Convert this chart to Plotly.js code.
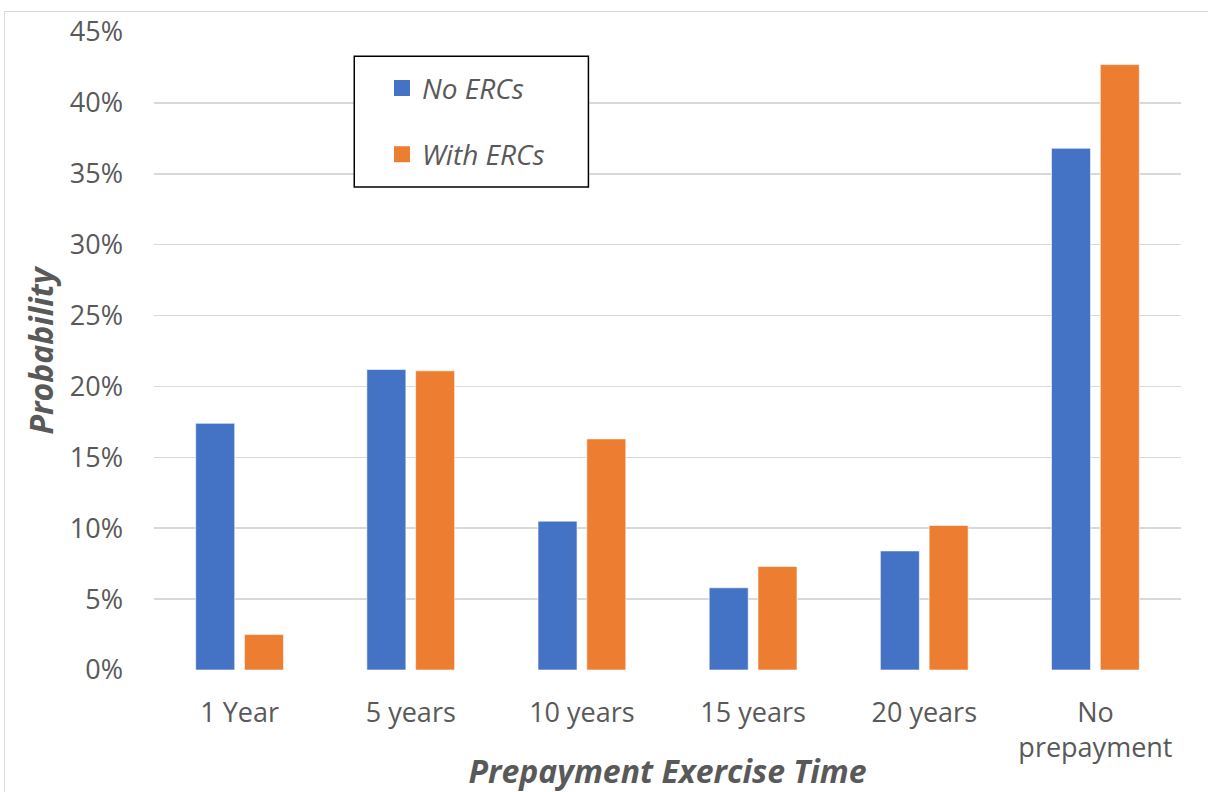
<!DOCTYPE html>
<html>
<head>
<meta charset="utf-8">
<script src="https://cdn.plot.ly/plotly-3.0.1.min.js"></script>
<style>
  html, body { margin: 0; padding: 0; background: #ffffff; overflow: hidden; }
  #frame { position: absolute; left: 4px; top: 11px; width: 1400px; height: 1000px;
           border: 1px solid #d9d9d9; box-sizing: border-box; }
  #chart { position: absolute; left: 0; top: 0; width: 1208px; height: 792px; }
</style>
</head>
<body>
<div id="frame"></div>
<div id="chart"></div>
<script>
// Exercise-time buckets on the x axis
const categories = ['1 Year', '5 years', '10 years', '15 years', '20 years', 'No<br>prepayment'];

// Probability of prepaying in each bucket (%)
const noERCs   = [17.4, 21.2, 10.5, 5.8, 8.4, 36.8];
const withERCs = [2.5, 21.1, 16.3, 7.3, 10.2, 42.7];

const seriesNames = ['No ERCs', 'With ERCs'];
const seriesColors = ['#4472C4', '#ED7D31'];

const yTickVals = [0, 5, 10, 15, 20, 25, 30, 35, 40, 45];
const yTickText = ['0%', '5%', '10%', '15%', '20%', '25%', '30%', '35%', '40%', '45%'];

const textGrey = '#595959';
const tickFont = { family: 'Open Sans, sans-serif', size: 27, color: textGrey };
const titleFont = { family: 'Open Sans, sans-serif', size: 32, color: textGrey, weight: 'bold', style: 'italic' };

const barSeries = [noERCs, withERCs];

const traces = [];
barSeries.forEach((vals, i) => {
  traces.push({
    type: 'bar', name: seriesNames[i], x: categories, y: vals,
    marker: { color: seriesColors[i], line: { color: 'rgba(255,255,255,0.6)', width: 1 } },
    showlegend: false, hoverinfo: 'x+y'
  });
});
// legend entries with larger square keys
seriesNames.forEach((name, i) => {
  traces.push({
    type: 'scatter', mode: 'markers', name: name, x: [null], y: [null],
    marker: { symbol: 'square', size: 16, color: seriesColors[i] },
    legendgroup: 'g' + i, showlegend: true, hoverinfo: 'skip'
  });
});

const layout = {
  width: 1208, height: 792,
  margin: { l: 154, r: 27, t: 32, b: 122 },
  paper_bgcolor: 'rgba(0,0,0,0)',
  plot_bgcolor: 'rgba(0,0,0,0)',
  barmode: 'group',
  bargap: 0.43,
  bargroupgap: 0.2,
  xaxis: {
    type: 'category',
    categoryarray: categories,
    tickfont: tickFont,
    ticks: '', showline: false, showgrid: false, zeroline: false,
    ticklabelstandoff: 24,
    title: { text: 'Prepayment Exercise Time', font: titleFont, standoff: 0 }
  },
  yaxis: {
    range: [0, 45],
    tickvals: yTickVals,
    ticktext: yTickText,
    tickfont: tickFont,
    ticks: '', showline: false, zeroline: false,
    gridcolor: '#d9d9d9', gridwidth: 1.5,
    ticklabelstandoff: 30,
    title: { text: 'Probability', font: titleFont, standoff: 6 },
    automargin: false
  },
  showlegend: true,
  legend: {
    x: 0.222, y: 0.951, xanchor: 'left', yanchor: 'top',
    bgcolor: 'rgba(0,0,0,0)', borderwidth: 0,
    traceorder: 'grouped', tracegroupgap: 27,
    itemsizing: 'trace',
    font: { family: 'Open Sans, sans-serif', size: 28, color: textGrey, style: 'italic' }
  },
  shapes: [
    // legend frame
    {
      type: 'rect', xref: 'paper', yref: 'paper',
      x0: 0.195, x1: 0.423, y0: 0.757, y1: 0.962,
      line: { color: '#000000', width: 1.5 }, fillcolor: '#ffffff', layer: 'above'
    }
  ]
};

Plotly.newPlot('chart', traces, layout, { displayModeBar: false, staticPlot: true });
</script>
</body>
</html>
